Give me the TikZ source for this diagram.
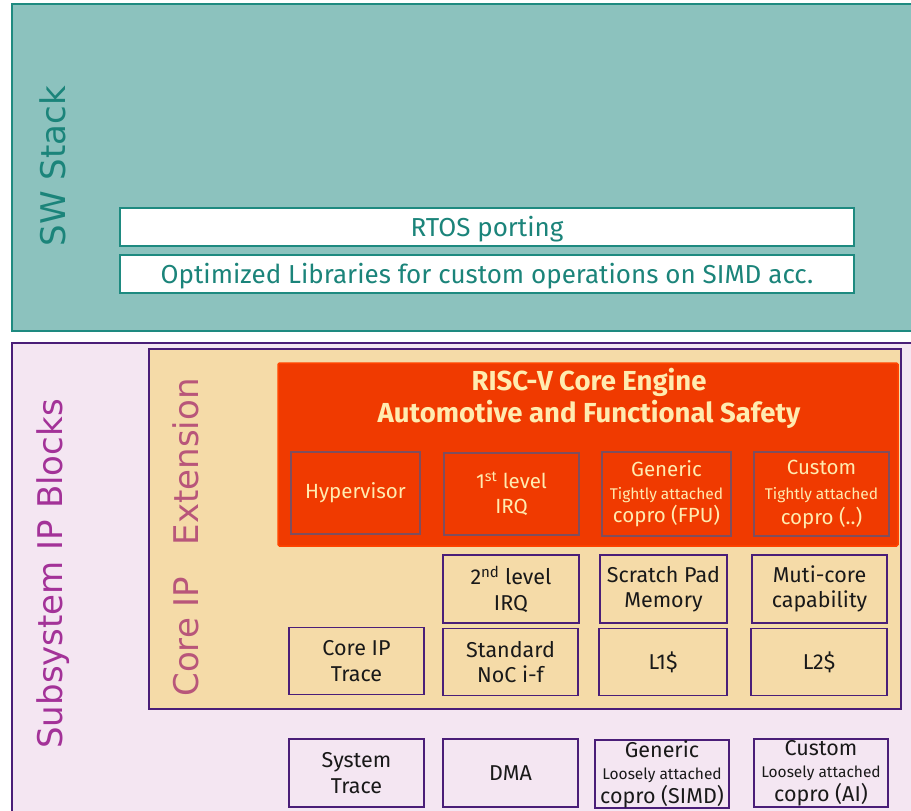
\documentclass[tikz,border=0pt]{standalone}
\usepackage{fontspec}
\setmainfont{Fira Sans}
\newfontfamily\sidefont{DejaVu Sans}
\definecolor{swfill}{HTML}{8CC2BE}
\definecolor{swline}{HTML}{1E8A80}
\definecolor{swtext}{HTML}{1B847A}
\definecolor{subfill}{HTML}{F4E6F2}
\definecolor{ipline}{HTML}{4A1E78}
\definecolor{subtext}{HTML}{A33298}
\definecolor{corefill}{HTML}{F5DBA8}
\definecolor{coretext}{HTML}{B8567A}
\definecolor{redfill}{HTML}{F03A00}
\definecolor{redline}{HTML}{FF4400}
\definecolor{redinner}{HTML}{7E4E5E}
\definecolor{cream}{HTML}{FFEBB0}
\tikzset{
  container/.style={draw=ipline, line width=1.5pt, inner sep=0pt},
  switem/.style={draw=swline, fill=white, line width=1.6pt, text=swtext,
    minimum width=734pt, minimum height=38pt, inner sep=0pt,
    text height=19pt, text depth=1pt,
    font=\fontsize{26}{30}\selectfont},
  sidelabel/.style={rotate=90, inner sep=0pt, font=\sidefont\fontsize{34}{40}\selectfont},
  redcell/.style={draw=redinner, fill=redfill, line width=1.5pt, text=cream,
    align=center, inner sep=0pt, font=\fontsize{20.5}{25}\selectfont},
  ipcell/.style={draw=ipline, line width=1.5pt, text=black!90,
    align=center, inner sep=0pt, font=\fontsize{21.5}{25.5}\selectfont}
}
\newcommand{\wsize}[2]{\fontsize{#1}{#1}\selectfont #2}
\begin{document}
\begin{tikzpicture}[x=1pt,y=-1pt]
\useasboundingbox (0,0) rectangle (911,811);
\fill[white] (0,0) rectangle (911,811);

% software stack
\node[container, draw=swline, fill=swfill, minimum width=913pt, minimum height=327pt] (sw) at (468.5,167.5) {};
\node[switem] (rtos) at (487,227) {RTOS porting};
\node[switem] (libs) at (487,274) {Optimized Libraries for custom operations on SIMD acc.};
\node[sidelabel, text=swtext] (swlabel) at (53,166) {SW Stack};

% subsystem
\node[container, fill=subfill, minimum width=913pt, minimum height=482pt] (sub) at (468.5,584) {};
\node[sidelabel, text=subtext] (sublabel) at (53,574) {Subsystem IP Blocks};

% core IP extension
\node[container, fill=corefill, minimum width=752pt, minimum height=360pt] (core) at (525,529) {};
\node[sidelabel, text=coretext] (corelabel) at (186,537.5) {Core IP\hspace{0.6em} Extension};

% RISC-V core engine
\node[draw=redline, fill=redfill, line width=1.5pt, rounded corners=1.5pt, minimum width=620pt, minimum height=183pt, inner sep=0pt] (engine) at (588,454.5) {};
\node[text=cream, align=center, font=\bfseries\fontsize{27.5}{32}\selectfont] (title) at (589,398) {RISC-V Core Engine\\Automotive and Functional Safety};

\node[redcell, minimum width=129pt, minimum height=82pt] (hyp) at (355.5,493) {\strut Hypervisor};
\node[redcell, minimum width=135pt, minimum height=82pt] (irqa) at (511.5,494) {1\textsuperscript{st} level\\IRQ};
\node[redcell, minimum width=129pt, minimum height=84pt] (fpu) at (666.5,494) {Generic\\[-2pt]{\wsize{15.5}{Tightly attached}}\\[-2pt]copro (FPU)};
\node[redcell, minimum width=135pt, minimum height=84pt] (cust) at (821.5,494) {Custom\\[0pt]{\wsize{15.5}{Tightly attached}}\\[0pt]copro (..)};

% core IP blocks
\node[ipcell, minimum width=136pt, minimum height=68pt] (irqb) at (511,589) {2\textsuperscript{nd} level\\IRQ};
\node[ipcell, minimum width=127pt, minimum height=68pt] (spm) at (663.5,589) {Scratch Pad\\Memory};
\node[ipcell, minimum width=135pt, minimum height=68pt] (multi) at (819.5,589) {Muti-core\\capability};
\node[ipcell, minimum width=135pt, minimum height=67pt] (ctrace) at (356.5,661) {Core IP\\Trace};
\node[ipcell, minimum width=135pt, minimum height=67pt] (noc) at (510.5,662) {Standard\\NoC i-f};
\node[ipcell, minimum width=128pt, minimum height=67pt] (lone) at (663,662) {L1\$};
\node[ipcell, minimum width=136pt, minimum height=67pt] (ltwo) at (819,662) {L2\$};

% subsystem blocks
\node[ipcell, minimum width=135pt, minimum height=68pt] (strace) at (356.5,773) {System\\Trace};
\node[ipcell, minimum width=135pt, minimum height=68pt] (dma) at (510.5,773) {DMA};
\node[ipcell, minimum width=134pt, minimum height=68pt] (simd) at (662,774) {Generic\\[-3pt]{\wsize{15.5}{Loosely attached}}\\[-2pt]copro (SIMD)};
\node[ipcell, minimum width=134pt, minimum height=68pt] (ai) at (821,773) {Custom\\[-3pt]{\wsize{15.5}{Loosely attached}}\\[-2pt]copro (AI)};
\end{tikzpicture}
\end{document}
